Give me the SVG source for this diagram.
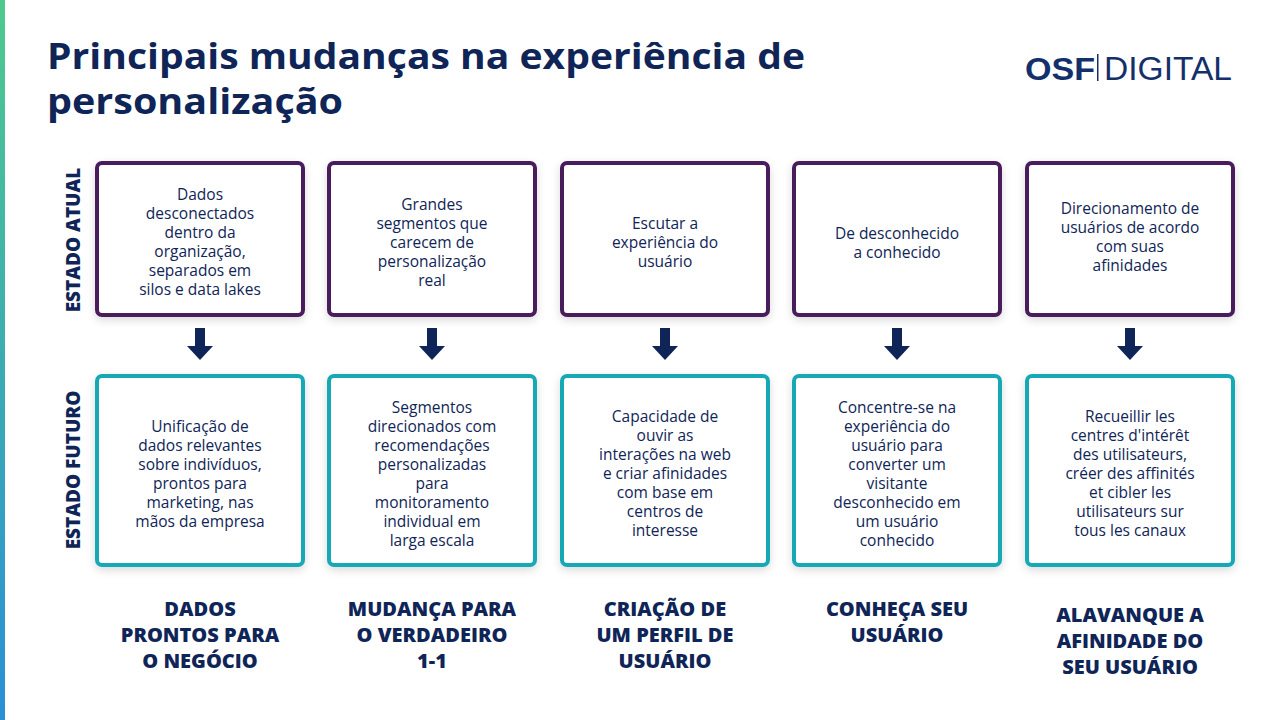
<svg xmlns="http://www.w3.org/2000/svg" width="1280" height="720" viewBox="0 0 1280 720">
<style>
.t{font-family:"Open Sans","Liberation Sans",sans-serif;fill:#0f2557;}
.title{font-size:36px;font-weight:700;}
.b{font-size:15.5px;text-anchor:middle;}
.lab{font-size:20px;font-weight:800;text-anchor:middle;}
.side{font-size:19px;font-weight:800;text-anchor:middle;}
.cur{fill:#fff;stroke:#4a1a5c;stroke-width:4;}
.fut{fill:#fff;stroke:#19a9b5;stroke-width:4;}
.arr{fill:#0f2557;}
</style>
<defs>
<linearGradient id="g" x1="0" y1="0" x2="0" y2="1"><stop offset="0" stop-color="#4fc98e"/><stop offset="1" stop-color="#2b8fd6"/></linearGradient>
<filter id="sh" x="-10%" y="-10%" width="120%" height="130%"><feDropShadow dx="0" dy="3" stdDeviation="4" flood-color="#000" flood-opacity="0.15"/></filter>
</defs>
<rect width="1280" height="720" fill="#fff"/>
<rect x="0" y="0" width="5" height="720" fill="url(#g)"/>
<text class="t title" x="47" y="69" textLength="758" lengthAdjust="spacingAndGlyphs">Principais mudanças na experiência de</text>
<text class="t title" x="47" y="114" textLength="296" lengthAdjust="spacingAndGlyphs">personalização</text>
<text x="1025" y="80" textLength="70" lengthAdjust="spacingAndGlyphs" style="font-family:'Liberation Sans',sans-serif;font-size:32px;font-weight:900;fill:#14306b">OSF</text>
<rect x="1097" y="54" width="1.5" height="27" fill="#14306b"/>
<text x="1104" y="80" textLength="128" lengthAdjust="spacingAndGlyphs" style="font-family:'Liberation Sans',sans-serif;font-size:33px;font-weight:300;fill:#14306b">DIGITAL</text>
<text class="t side" transform="translate(80,240) rotate(-90)">ESTADO ATUAL</text>
<text class="t side" transform="translate(80,470) rotate(-90)">ESTADO FUTURO</text>
<g id="connectors">
<path class="arr" d="M195,328h10v18h8l-13,14l-13,-14h8z"/>
<path class="arr" d="M427,328h10v18h8l-13,14l-13,-14h8z"/>
<path class="arr" d="M660,328h10v18h8l-13,14l-13,-14h8z"/>
<path class="arr" d="M892,328h10v18h8l-13,14l-13,-14h8z"/>
<path class="arr" d="M1125,328h10v18h8l-13,14l-13,-14h8z"/>
</g>
<g id="c1"><rect class="cur" x="97" y="163" width="206" height="152" rx="5" filter="url(#sh)"/>
<text class="t b" x="200"><tspan x="200" y="200">Dados</tspan><tspan x="200" y="219">desconectados</tspan><tspan x="200" y="238">dentro da</tspan><tspan x="200" y="257">organização,</tspan><tspan x="200" y="276">separados em</tspan><tspan x="200" y="295">silos e data lakes</tspan></text></g>
<g id="c2"><rect class="cur" x="329" y="163" width="206" height="152" rx="5" filter="url(#sh)"/>
<text class="t b"><tspan x="432" y="210">Grandes</tspan><tspan x="432" y="229">segmentos que</tspan><tspan x="432" y="248">carecem de</tspan><tspan x="432" y="267">personalização</tspan><tspan x="432" y="286">real</tspan></text></g>
<g id="c3"><rect class="cur" x="562" y="163" width="206" height="152" rx="5" filter="url(#sh)"/>
<text class="t b"><tspan x="665" y="229">Escutar a</tspan><tspan x="665" y="248">experiência do</tspan><tspan x="665" y="267">usuário</tspan></text></g>
<g id="c4"><rect class="cur" x="794" y="163" width="206" height="152" rx="5" filter="url(#sh)"/>
<text class="t b"><tspan x="897" y="239">De desconhecido</tspan><tspan x="897" y="258">a conhecido</tspan></text></g>
<g id="c5"><rect class="cur" x="1027" y="163" width="206" height="152" rx="5" filter="url(#sh)"/>
<text class="t b"><tspan x="1130" y="214">Direcionamento de</tspan><tspan x="1130" y="233">usuários de acordo</tspan><tspan x="1130" y="252">com suas</tspan><tspan x="1130" y="271">afinidades</tspan></text></g>
<g id="f1"><rect class="fut" x="97" y="376" width="206" height="189" rx="5" filter="url(#sh)"/>
<text class="t b"><tspan x="200" y="432">Unificação de</tspan><tspan x="200" y="451">dados relevantes</tspan><tspan x="200" y="470">sobre indivíduos,</tspan><tspan x="200" y="489">prontos para</tspan><tspan x="200" y="508">marketing, nas</tspan><tspan x="200" y="527">mãos da empresa</tspan></text></g>
<g id="f2"><rect class="fut" x="329" y="376" width="206" height="189" rx="5" filter="url(#sh)"/>
<text class="t b"><tspan x="432" y="413">Segmentos</tspan><tspan x="432" y="432">direcionados com</tspan><tspan x="432" y="451">recomendações</tspan><tspan x="432" y="470">personalizadas</tspan><tspan x="432" y="489">para</tspan><tspan x="432" y="508">monitoramento</tspan><tspan x="432" y="527">individual em</tspan><tspan x="432" y="546">larga escala</tspan></text></g>
<g id="f3"><rect class="fut" x="562" y="376" width="206" height="189" rx="5" filter="url(#sh)"/>
<text class="t b"><tspan x="665" y="422">Capacidade de</tspan><tspan x="665" y="441">ouvir as</tspan><tspan x="665" y="460">interações na web</tspan><tspan x="665" y="479">e criar afinidades</tspan><tspan x="665" y="498">com base em</tspan><tspan x="665" y="517">centros de</tspan><tspan x="665" y="536">interesse</tspan></text></g>
<g id="f4"><rect class="fut" x="794" y="376" width="206" height="189" rx="5" filter="url(#sh)"/>
<text class="t b"><tspan x="897" y="413">Concentre-se na</tspan><tspan x="897" y="432">experiência do</tspan><tspan x="897" y="451">usuário para</tspan><tspan x="897" y="470">converter um</tspan><tspan x="897" y="489">visitante</tspan><tspan x="897" y="508">desconhecido em</tspan><tspan x="897" y="527">um usuário</tspan><tspan x="897" y="546">conhecido</tspan></text></g>
<g id="f5"><rect class="fut" x="1027" y="376" width="206" height="189" rx="5" filter="url(#sh)"/>
<text class="t b"><tspan x="1130" y="422">Recueillir les</tspan><tspan x="1130" y="441">centres d'intérêt</tspan><tspan x="1130" y="460">des utilisateurs,</tspan><tspan x="1130" y="479">créer des affinités</tspan><tspan x="1130" y="498">et cibler les</tspan><tspan x="1130" y="517">utilisateurs sur</tspan><tspan x="1130" y="536">tous les canaux</tspan></text></g>
<g id="labels">
<text class="t lab"><tspan x="200" y="616">DADOS</tspan><tspan x="200" y="642">PRONTOS PARA</tspan><tspan x="200" y="668">O NEGÓCIO</tspan></text>
<text class="t lab"><tspan x="432" y="616">MUDANÇA PARA</tspan><tspan x="432" y="642">O VERDADEIRO</tspan><tspan x="432" y="668">1-1</tspan></text>
<text class="t lab"><tspan x="665" y="616">CRIAÇÃO DE</tspan><tspan x="665" y="642">UM PERFIL DE</tspan><tspan x="665" y="668">USUÁRIO</tspan></text>
<text class="t lab"><tspan x="897" y="616">CONHEÇA SEU</tspan><tspan x="897" y="642">USUÁRIO</tspan></text>
<text class="t lab"><tspan x="1130" y="622">ALAVANQUE A</tspan><tspan x="1130" y="648">AFINIDADE DO</tspan><tspan x="1130" y="674">SEU USUÁRIO</tspan></text>
</g>
</svg>
